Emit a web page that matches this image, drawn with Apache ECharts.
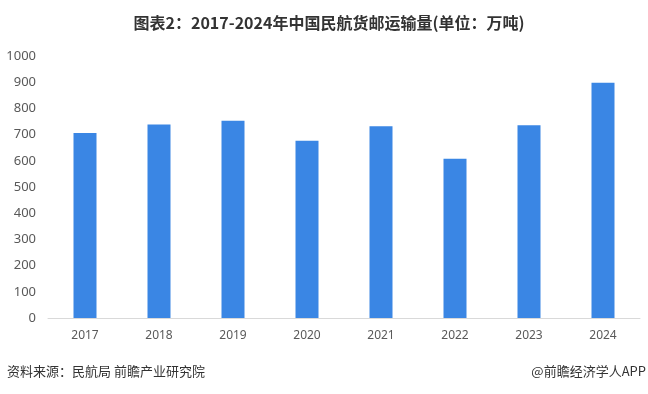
<!DOCTYPE html>
<html>
<head>
<meta charset="utf-8">
<script src="https://cdn.jsdelivr.net/npm/echarts@6/dist/echarts.min.js"></script>
<style>html,body{margin:0;padding:0;background:#fff;}#c{width:648px;height:394px;}</style>
</head>
<body>
<div id="c"></div>
<script>
var categories = ['2017','2018','2019','2020','2021','2022','2023','2024'];
var cargoValues = [705.9, 738.5, 753.2, 676.6, 731.8, 607.6, 735.4, 898.2];
var yTicks = [0, 100, 200, 300, 400, 500, 600, 700, 800, 900, 1000];

var chart = echarts.init(document.getElementById('c'));
chart.setOption({
  backgroundColor: '#ffffff',
  animation: false,
  title: {
    text: '图表2：2017-2024年中国民航货邮运输量(单位：万吨)',
    left: 324, top: 10, textAlign: 'center',
    textStyle: { fontFamily: 'Noto Sans CJK SC', fontSize: 16, fontWeight: 'bold', color: '#333333' }
  },
  graphic: [
    { type: 'text', left: 7, top: 365, style: { text: '资料来源：民航局 前瞻产业研究院', font: '13px "Noto Sans CJK SC"', fill: '#333333' } },
    { type: 'text', right: 2, top: 365, style: { text: '@前瞻经济学人APP', font: '13px "Noto Sans CJK SC"', fill: '#333333' } }
  ],
  grid: { left: 48, right: 8, top: 56, bottom: 76 },
  xAxis: {
    type: 'category',
    data: categories,
    axisLine: { lineStyle: { color: '#d9d9d9' } },
    axisTick: { show: false },
    axisLabel: { color: '#595959', fontSize: 12, fontFamily: 'Noto Sans', margin: 12 }
  },
  yAxis: {
    type: 'value',
    min: yTicks[0], max: yTicks[yTicks.length - 1], interval: 100,
    axisLine: { show: false },
    axisTick: { show: false },
    splitLine: { show: false },
    axisLabel: { color: '#595959', fontSize: 13, fontFamily: 'Noto Sans', margin: 12, formatter: function (v) { return String(v); } }
  },
  series: [{
    type: 'bar',
    data: cargoValues,
    barWidth: 23,
    itemStyle: { color: '#3a86e4' }
  }]
});
</script>
</body>
</html>
